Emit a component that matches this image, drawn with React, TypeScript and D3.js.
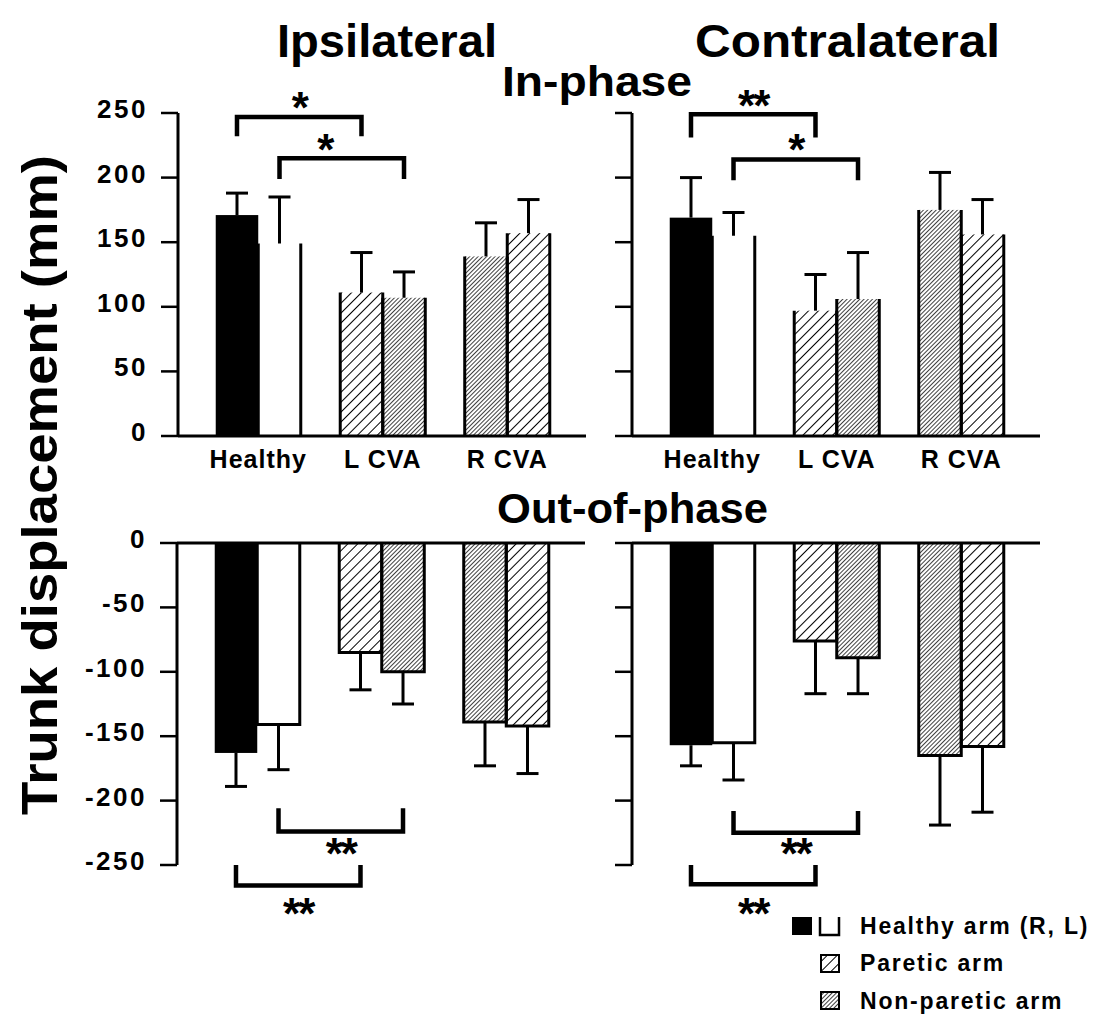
import * as d3 from "d3";

const categories = ["Healthy", "L CVA", "R CVA"];
// two bars per category, left then right
const barKinds = ["healthyR", "healthyL", "paretic", "nonParetic", "nonParetic", "paretic"];

// in-phase (mm)
const ipsiInMean = [171, 149, 111, 107, 139, 157];
const ipsiInSd = [17, 36, 31, 20, 26, 26];
const contraInMean = [169, 155, 97, 106, 175, 156];
const contraInSd = [31, 18, 28, 36, 29, 27];
// out-of-phase (mm)
const ipsiOutMean = [-163, -141, -85, -100, -139, -142];
const ipsiOutSd = [26, 35, 29, 25, 34, 37];
const contraOutMean = [-157, -155, -76, -89, -165, -158];
const contraOutSd = [16, 29, 41, 28, 54, 51];

const inTicks = [0, 50, 100, 150, 200, 250];
const outTicks = [0, -50, -100, -150, -200, -250];

// significance brackets: bar index from/to, bracket level, leg end, label
const ipsiInSig = [
  { from: 0, to: 2, level: 247, leg: 232, label: "*", off: 12, dx: 0 },
  { from: 1, to: 3, level: 215, leg: 199, label: "*", off: 12, dx: -17 },
];
const contraInSig = [
  { from: 0, to: 2, level: 249, leg: 231, label: "**", off: 12, dx: 0 },
  { from: 1, to: 3, level: 214, leg: 198, label: "*", off: 13, dx: 0 },
];
const ipsiOutSig = [
  { from: 1, to: 3, level: -224, leg: -206, label: "**", off: 19, dx: 0 },
  { from: 0, to: 2, level: -266, leg: -250, label: "**", off: 25, dx: 0 },
];
const contraOutSig = [
  { from: 1, to: 3, level: -225, leg: -208, label: "**", off: 18, dx: 0 },
  { from: 0, to: 2, level: -265, leg: -250, label: "**", off: 26, dx: 0 },
];

const FONT = "'Liberation Sans', Arial, Helvetica, sans-serif";

const fillFor = (k) =>
  k === "healthyR" ? "#000" : k === "healthyL" ? "#fff" : k === "paretic" ? "url(#sparse)" : "url(#dense)";

function Panel({ x0, y, mean, sd, sig, ticks, labels, top }) {
  const groups = d3
    .scaleBand()
    .domain(categories)
    .range([x0 + 18, x0 + 18 + 373.5])
    .paddingInner(0.317)
    .paddingOuter(0.1585);
  const sub = d3.scaleBand().domain(["a", "b"]).range([0, groups.bandwidth()]);
  const bw = sub.bandwidth();
  const barX = (i) => groups(categories[Math.floor(i / 2)]) + sub(i % 2 ? "b" : "a");
  const zero = y(0);
  const end = ticks[ticks.length - 1];

  return (
    <g>
      {mean.map((v, i) => (
        <rect
          key={"b" + i}
          x={barX(i)}
          y={Math.min(y(v), zero)}
          width={bw}
          height={Math.abs(y(v) - zero)}
          fill={fillFor(barKinds[i])}
        />
      ))}
      {mean.map((v, i) => {
        if (barKinds[i] === "healthyR") return null;
        const x = barX(i);
        const d = top
          ? `M${x},${zero}V${y(v)}M${x + bw},${zero}V${y(v)}`
          : `M${x},${zero}V${y(v)}H${x + bw}V${zero}`;
        return <path key={"o" + i} d={d} fill="none" stroke="#000" strokeWidth={3} />;
      })}
      {mean.map((v, i) => {
        const cx = barX(i) + bw / 2;
        const e = v + (v >= 0 ? sd[i] : -sd[i]);
        return (
          <g key={"e" + i} stroke="#000" strokeWidth={3}>
            <line x1={cx} x2={cx} y1={y(v)} y2={y(e)} />
            <line x1={cx - 11} x2={cx + 11} y1={y(e)} y2={y(e)} />
          </g>
        );
      })}
      {/* axes */}
      <line x1={x0} x2={x0 + 408} y1={zero} y2={zero} stroke="#000" strokeWidth={3} />
      <line x1={x0} x2={x0} y1={zero} y2={y(end)} stroke="#000" strokeWidth={3} />
      {ticks.map((t) => (
        <g key={"t" + t}>
          <line x1={x0 - 17} x2={x0} y1={y(t)} y2={y(t)} stroke="#000" strokeWidth={2.5} />
          {labels && (
            <text
              x={x0 - 30}
              y={y(t) + 5}
              textAnchor="end"
              fontFamily={FONT}
              fontWeight="bold"
              fontSize={26}
              letterSpacing={2.5}
            >
              {t}
            </text>
          )}
        </g>
      ))}
      {top &&
        categories.map((c) => (
          <text
            key={c}
            x={groups(c) + groups.bandwidth() / 2}
            y={468}
            textAnchor="middle"
            fontFamily={FONT}
            fontWeight="bold"
            fontSize={25}
            letterSpacing={1}
          >
            {c}
          </text>
        ))}
      {sig.map((s, i) => {
        const xa = barX(s.from) + bw / 2;
        const xb = barX(s.to) + bw / 2;
        const ly = y(s.level);
        const gy = y(s.leg);
        const mid = (xa + xb) / 2 + s.dx;
        const starCenter = top ? ly - s.off : ly + s.off;
        const fs = top ? 44 : 44;
        return (
          <g key={"s" + i}>
            <path
              d={`M${xa},${gy}V${ly}H${xb}V${gy}`}
              fill="none"
              stroke="#000"
              strokeWidth={4.5}
            />
            <text
              x={mid}
              y={starCenter + fs * 0.42}
              textAnchor="middle"
              fontFamily={FONT}
              fontWeight="bold"
              fontSize={fs}
              letterSpacing={-2}
            >
              {s.label}
            </text>
          </g>
        );
      })}
    </g>
  );
}

export default function App() {
  const yTop = d3.scaleLinear().domain([0, 250]).range([436, 113]);
  const yBottom = d3.scaleLinear().domain([0, -250]).range([543, 865]);

  const legendText = {
    fontFamily: FONT,
    fontWeight: "bold",
    fontSize: 23,
    letterSpacing: 1.8,
  };

  return (
    <div style={{ position: "absolute", left: 0, top: 0 }}>
      <svg width={1099} height={1027} style={{ display: "block", background: "#fff" }}>
        <defs>
          <pattern id="sparse" width={7} height={7} patternUnits="userSpaceOnUse" patternTransform="rotate(45)">
            <rect width={7} height={7} fill="#fff" />
            <line x1={0} y1={0} x2={0} y2={7} stroke="#000" strokeWidth={2} />
          </pattern>
          <pattern id="dense" width={3} height={3} patternUnits="userSpaceOnUse" patternTransform="rotate(45)">
            <rect width={3} height={3} fill="#fff" />
            <line x1={0} y1={0} x2={0} y2={3} stroke="#000" strokeWidth={1.5} />
          </pattern>
        </defs>

        {/* titles */}
        <text x={277} y={57} fontFamily={FONT} fontWeight="bold" fontSize={46} textLength={220} lengthAdjust="spacingAndGlyphs">
          Ipsilateral
        </text>
        <text x={695} y={57} fontFamily={FONT} fontWeight="bold" fontSize={46} textLength={305} lengthAdjust="spacingAndGlyphs">
          Contralateral
        </text>
        <text x={502} y={96} fontFamily={FONT} fontWeight="bold" fontSize={42} textLength={190} lengthAdjust="spacingAndGlyphs">
          In-phase
        </text>
        <text x={497} y={523} fontFamily={FONT} fontWeight="bold" fontSize={42} textLength={271} lengthAdjust="spacingAndGlyphs">
          Out-of-phase
        </text>
        <text
          transform="translate(57,485) rotate(-90)"
          textAnchor="middle"
          fontFamily={FONT}
          fontWeight="bold"
          fontSize={50}
          textLength={660}
          lengthAdjust="spacingAndGlyphs"
        >
          Trunk displacement (mm)
        </text>

        <Panel x0={178} y={yTop} mean={ipsiInMean} sd={ipsiInSd} sig={ipsiInSig} ticks={inTicks} labels top />
        <Panel x0={632} y={yTop} mean={contraInMean} sd={contraInSd} sig={contraInSig} ticks={inTicks} labels={false} top />
        <Panel x0={177} y={yBottom} mean={ipsiOutMean} sd={ipsiOutSd} sig={ipsiOutSig} ticks={outTicks} labels top={false} />
        <Panel x0={632} y={yBottom} mean={contraOutMean} sd={contraOutSd} sig={contraOutSig} ticks={outTicks} labels={false} top={false} />

        {/* legend */}
        <rect x={792} y={917} width={20} height={18} fill="#000" />
        <path d="M820,917V935H839V917" fill="none" stroke="#000" strokeWidth={2.5} />
        <text x={860} y={934} {...legendText}>Healthy arm (R, L)</text>
        <rect x={821} y={955} width={18} height={17} fill="url(#sparse)" stroke="#000" strokeWidth={2} />
        <text x={860} y={971} {...legendText}>Paretic arm</text>
        <rect x={821} y={992} width={18} height={17} fill="url(#dense)" stroke="#000" strokeWidth={2} />
        <text x={860} y={1009} {...legendText}>Non-paretic arm</text>
      </svg>
    </div>
  );
}
